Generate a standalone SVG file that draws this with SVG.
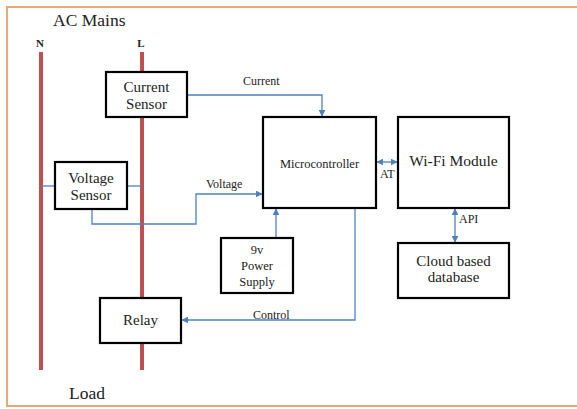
<svg xmlns="http://www.w3.org/2000/svg" width="577" height="409" viewBox="0 0 577 409">
<defs>
<style>
.box{fill:#fff;stroke:#000;stroke-width:2.2}
.wire{fill:none;stroke:#C0504D;stroke-width:4}
.conn{fill:none;stroke:#4F81BD;stroke-width:1.3}
text{font-family:"Liberation Serif","DejaVu Serif",serif;fill:#222}
.lbl{font-size:12px}
.t{font-size:15px;text-anchor:middle}
.s{font-size:12.5px;text-anchor:middle}
</style>
<marker id="ah" viewBox="0 0 10 10" refX="9" refY="5" markerWidth="7" markerHeight="7" orient="auto-start-reverse" markerUnits="userSpaceOnUse">
<path d="M0,0 L10,5 L0,10 z" fill="#4F81BD"/>
</marker>
</defs>
<rect width="577" height="409" fill="#fff"/>
<path d="M580,7 H7 V406 H580" fill="none" stroke="#E9A877" stroke-width="2"/>
<text x="53" y="26" style="font-size:17.5px">AC Mains</text>
<text x="40" y="47" style="font-size:11px;font-weight:bold;text-anchor:middle">N</text>
<text x="141" y="47" style="font-size:11px;font-weight:bold;text-anchor:middle">L</text>
<text x="69" y="399" style="font-size:17.5px">Load</text>
<g id="mains">
<line class="wire" x1="41" y1="52" x2="41" y2="370"/>
<line class="wire" x1="142" y1="52" x2="142" y2="370"/>
</g>
<g id="connectors">
<line class="conn" x1="41" y1="186" x2="55" y2="186"/>
<line class="conn" x1="127" y1="186" x2="142" y2="186"/>
<polyline class="conn" points="188,95 322,95 322,116" marker-end="url(#ah)"/>
<polyline class="conn" points="92,209 92,224 196,224 196,194 262,194" marker-end="url(#ah)"/>
<polyline class="conn" points="276,238 276,209" marker-end="url(#ah)"/>
<polyline class="conn" points="355,208 355,320 182,320" marker-end="url(#ah)"/>
<line class="conn" x1="377" y1="162" x2="397" y2="162" marker-start="url(#ah)" marker-end="url(#ah)"/>
<line class="conn" x1="455" y1="209" x2="455" y2="242" marker-start="url(#ah)" marker-end="url(#ah)"/>
<text class="lbl" x="243" y="85">Current</text>
<text class="lbl" x="206" y="188">Voltage</text>
<text class="lbl" x="253" y="319">Control</text>
<text class="lbl" x="380" y="178">AT</text>
<text class="lbl" x="459" y="223">API</text>
</g>
<g id="current-sensor">
<rect class="box" x="106" y="72" width="81" height="45"/>
<text class="t" x="146.5" y="92">Current</text>
<text class="t" x="146.5" y="109">Sensor</text>
</g>
<g id="voltage-sensor">
<rect class="box" x="55" y="162" width="72" height="47"/>
<text class="t" x="91" y="183">Voltage</text>
<text class="t" x="91" y="200">Sensor</text>
</g>
<g id="microcontroller">
<rect class="box" x="263" y="117" width="113" height="91"/>
<text x="319.5" y="168" style="font-size:12.5px;text-anchor:middle">Microcontroller</text>
</g>
<g id="wifi">
<rect class="box" x="398" y="117" width="111" height="91"/>
<text x="453.5" y="166" style="font-size:15.5px;text-anchor:middle">Wi-Fi Module</text>
</g>
<g id="cloud">
<rect class="box" x="398" y="243" width="111" height="55"/>
<text class="t" x="453.5" y="266">Cloud based</text>
<text class="t" x="453.5" y="282">database</text>
</g>
<g id="power">
<rect class="box" x="221" y="238" width="72" height="55"/>
<text class="s" x="257" y="254">9v</text>
<text class="s" x="257" y="270">Power</text>
<text class="s" x="257" y="286">Supply</text>
</g>
<g id="relay">
<rect class="box" x="100" y="298" width="81" height="45"/>
<text class="t" x="140.5" y="325">Relay</text>
</g>
</svg>
